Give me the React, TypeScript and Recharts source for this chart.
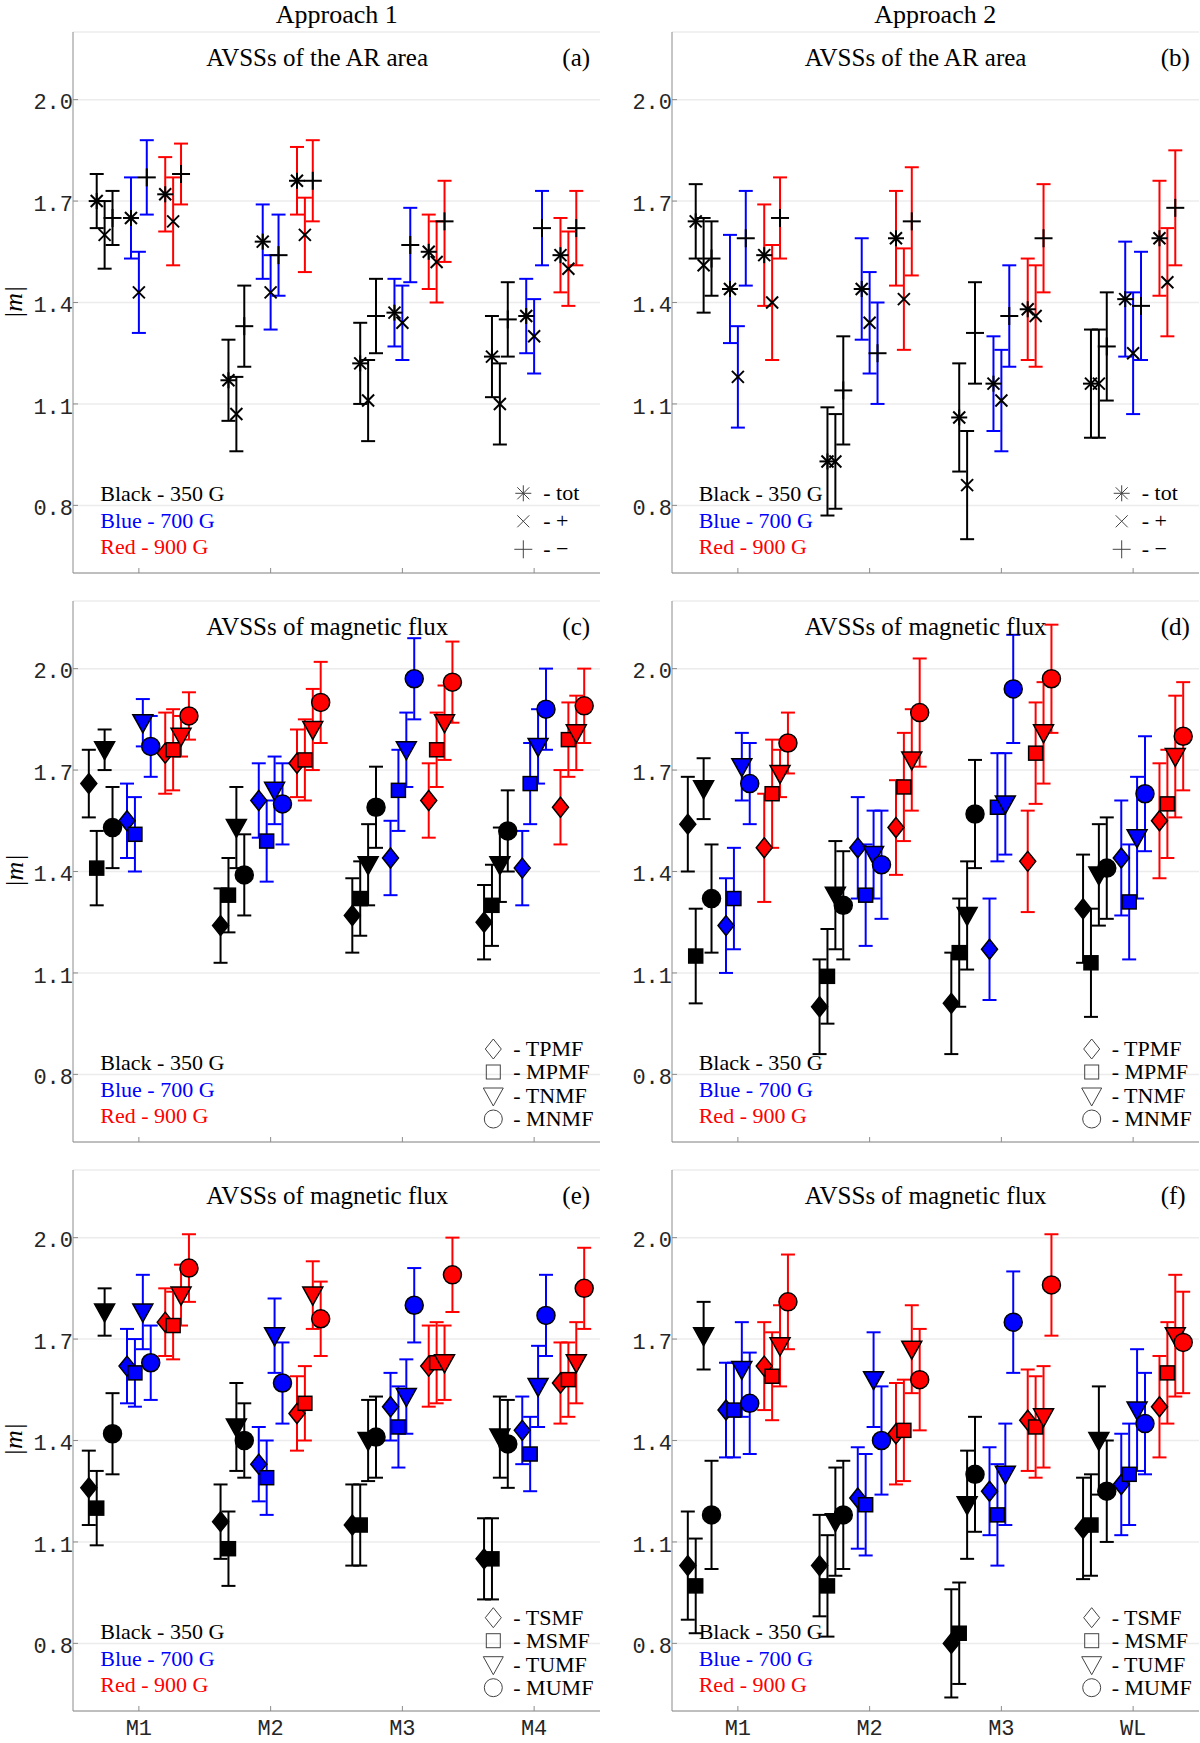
import React from "react";
import { ScatterChart, Scatter, XAxis, YAxis, CartesianGrid, ErrorBar } from "recharts";

// categories / ticks
const groups1 = ["M1", "M2", "M3", "M4"];
const groups2 = ["M1", "M2", "M3", "WL"];
const yTicks = [0.8, 1.1, 1.4, 1.7, 2.0];
const xTicks = [1, 2, 3, 4];

// (a) AR area, approach 1 — rows: tot, +, - ; cols: groups1
const aBlack = [[1.70, 1.17, 1.22, 1.24], [1.60, 1.07, 1.11, 1.10], [1.65, 1.33, 1.36, 1.35]];
const aBlackErr = [[0.08, 0.12, 0.12, 0.12], [0.10, 0.11, 0.12, 0.12], [0.08, 0.12, 0.11, 0.11]];
const aBlue = [[1.65, 1.58, 1.37, 1.36], [1.43, 1.43, 1.34, 1.30], [1.77, 1.54, 1.57, 1.62]];
const aBlueErr = [[0.12, 0.11, 0.10, 0.11], [0.12, 0.11, 0.11, 0.11], [0.11, 0.12, 0.11, 0.11]];
const aRed = [[1.72, 1.76, 1.55, 1.54], [1.64, 1.60, 1.52, 1.50], [1.78, 1.76, 1.64, 1.62]];
const aRedErr = [[0.11, 0.10, 0.11, 0.11], [0.13, 0.11, 0.12, 0.11], [0.09, 0.12, 0.12, 0.11]];

// (b) AR area, approach 2 — cols: groups2
const bBlack = [[1.64, 0.93, 1.06, 1.16], [1.51, 0.93, 0.86, 1.16], [1.53, 1.14, 1.31, 1.27]];
const bBlackErr = [[0.11, 0.16, 0.16, 0.16], [0.14, 0.14, 0.16, 0.16], [0.11, 0.16, 0.15, 0.16]];
const bBlue = [[1.44, 1.44, 1.16, 1.41], [1.18, 1.34, 1.11, 1.25], [1.59, 1.25, 1.36, 1.39]];
const bBlueErr = [[0.16, 0.15, 0.14, 0.17], [0.15, 0.15, 0.15, 0.18], [0.14, 0.15, 0.15, 0.16]];
const bRed = [[1.54, 1.59, 1.38, 1.59], [1.40, 1.41, 1.36, 1.46], [1.65, 1.64, 1.59, 1.68]];
const bRedErr = [[0.15, 0.14, 0.15, 0.17], [0.17, 0.15, 0.15, 0.16], [0.12, 0.16, 0.16, 0.17]];

// (c) flux, approach 1 — rows: TPMF, MPMF, TNMF, MNMF
const cBlack = [[1.66, 1.24, 1.27, 1.25], [1.41, 1.33, 1.32, 1.30], [1.76, 1.53, 1.42, 1.42], [1.53, 1.39, 1.59, 1.52]];
const cBlackErr = [[0.10, 0.11, 0.11, 0.11], [0.11, 0.11, 0.11, 0.12], [0.06, 0.12, 0.12, 0.11], [0.12, 0.12, 0.12, 0.12]];
const cBlue = [[1.55, 1.61, 1.44, 1.41], [1.51, 1.49, 1.64, 1.66], [1.84, 1.64, 1.76, 1.77], [1.77, 1.60, 1.97, 1.88]];
const cBlueErr = [[0.11, 0.11, 0.11, 0.11], [0.11, 0.12, 0.12, 0.12], [0.07, 0.10, 0.11, 0.11], [0.09, 0.12, 0.12, 0.12]];
const cRed = [[1.75, 1.72, 1.61, 1.59], [1.76, 1.73, 1.76, 1.79], [1.80, 1.82, 1.84, 1.81], [1.86, 1.90, 1.96, 1.89]];
const cRedErr = [[0.12, 0.10, 0.11, 0.11], [0.12, 0.12, 0.11, 0.11], [0.06, 0.12, 0.11, 0.11], [0.07, 0.12, 0.12, 0.11]];

// (d) flux, approach 2
const dBlack = [[1.54, 1.00, 1.01, 1.29], [1.15, 1.09, 1.16, 1.13], [1.645, 1.33, 1.27, 1.39], [1.32, 1.30, 1.57, 1.41]];
const dBlackErr = [[0.14, 0.14, 0.15, 0.16], [0.14, 0.14, 0.16, 0.16], [0.09, 0.16, 0.16, 0.15], [0.16, 0.16, 0.16, 0.15]];
const dBlue = [[1.24, 1.47, 1.17, 1.44], [1.32, 1.33, 1.59, 1.31], [1.71, 1.45, 1.60, 1.50], [1.66, 1.42, 1.94, 1.63]];
const dBlueErr = [[0.14, 0.15, 0.15, 0.17], [0.15, 0.15, 0.16, 0.17], [0.10, 0.13, 0.15, 0.18], [0.12, 0.16, 0.16, 0.17]];
const dRed = [[1.47, 1.53, 1.43, 1.55], [1.63, 1.65, 1.75, 1.60], [1.69, 1.73, 1.81, 1.74], [1.78, 1.87, 1.97, 1.80]];
const dRedErr = [[0.16, 0.14, 0.15, 0.17], [0.16, 0.16, 0.15, 0.16], [0.07, 0.15, 0.15, 0.18], [0.09, 0.16, 0.16, 0.16]];

// (e) flux, approach 1 — rows: TSMF, MSMF, TUMF, MUMF
const eBlack = [[1.26, 1.16, 1.15, 1.05], [1.20, 1.08, 1.15, 1.05], [1.78, 1.44, 1.40, 1.41], [1.42, 1.40, 1.41, 1.39]];
const eBlackErr = [[0.11, 0.11, 0.12, 0.12], [0.11, 0.11, 0.12, 0.12], [0.07, 0.13, 0.12, 0.12], [0.12, 0.11, 0.12, 0.13]];
const eBlue = [[1.62, 1.33, 1.50, 1.43], [1.60, 1.29, 1.44, 1.36], [1.78, 1.71, 1.53, 1.56], [1.63, 1.57, 1.80, 1.77]];
const eBlueErr = [[0.11, 0.11, 0.10, 0.10], [0.10, 0.11, 0.12, 0.11], [0.11, 0.11, 0.11, 0.12], [0.11, 0.12, 0.11, 0.12]];
const eRed = [[1.75, 1.48, 1.62, 1.57], [1.74, 1.51, 1.63, 1.58], [1.83, 1.83, 1.63, 1.63], [1.91, 1.76, 1.89, 1.85]];
const eRedErr = [[0.10, 0.11, 0.12, 0.12], [0.10, 0.11, 0.12, 0.11], [0.09, 0.10, 0.11, 0.12], [0.10, 0.11, 0.11, 0.12]];

// (f) flux, approach 2
const fBlack = [[1.03, 1.03, 0.80, 1.14], [0.97, 0.97, 0.83, 1.15], [1.71, 1.16, 1.21, 1.40], [1.18, 1.18, 1.30, 1.25]];
const fBlackErr = [[0.16, 0.15, 0.16, 0.15], [0.14, 0.15, 0.15, 0.15], [0.10, 0.16, 0.16, 0.16], [0.16, 0.16, 0.17, 0.15]];
const fBlue = [[1.49, 1.23, 1.25, 1.27], [1.49, 1.21, 1.18, 1.30], [1.61, 1.58, 1.30, 1.49], [1.51, 1.40, 1.75, 1.45]];
const fBlueErr = [[0.14, 0.15, 0.13, 0.15], [0.14, 0.15, 0.15, 0.15], [0.14, 0.14, 0.15, 0.18], [0.15, 0.16, 0.15, 0.15]];
const fRed = [[1.62, 1.42, 1.46, 1.50], [1.59, 1.43, 1.44, 1.60], [1.68, 1.67, 1.47, 1.71], [1.81, 1.58, 1.86, 1.69]];
const fRedErr = [[0.13, 0.15, 0.15, 0.15], [0.13, 0.15, 0.15, 0.15], [0.12, 0.13, 0.15, 0.18], [0.14, 0.15, 0.15, 0.15]];

const arMarkers = ["star", "x", "plus"];
const arLabels = ["- tot", "- +", "- \u2212"];
const fluxMarkers = ["diamond", "square", "tri", "circle"];
const pLabels = ["- TPMF", "- MPMF", "- TNMF", "- MNMF"];
const sLabels = ["- TSMF", "- MSMF", "- TUMF", "- MUMF"];
const fieldLabels = ["Black - 350 G", "Blue - 700 G", "Red - 900 G"];
const COLORS = ["#000000", "#0000ff", "#ff0000"];

// layout
const PW = 527;
const PH = 541;
const COL_X = [73.3, 671.7];
const ROW_Y = [32.3, 601, 1169.7];
const ML = 70;
const MT = 6;
const MR = 4;
const MB = 31;
const FRAME = "#8c8c8c";
const TXT = "#262626";
const SERIF = "'Liberation Serif', 'DejaVu Serif', serif";
const MONO = "'Liberation Mono', 'DejaVu Sans Mono', monospace";
const TICK_FS = 22;

const panels = [
  { id: "a", col: 0, row: 0, title: "AVSSs of the AR area", markers: arMarkers, labels: arLabels, groups: groups1, vals: [aBlack, aBlue, aRed], errs: [aBlackErr, aBlueErr, aRedErr] },
  { id: "b", col: 1, row: 0, title: "AVSSs of the AR area", markers: arMarkers, labels: arLabels, groups: groups2, vals: [bBlack, bBlue, bRed], errs: [bBlackErr, bBlueErr, bRedErr] },
  { id: "c", col: 0, row: 1, title: "AVSSs of magnetic flux", markers: fluxMarkers, labels: pLabels, groups: groups1, vals: [cBlack, cBlue, cRed], errs: [cBlackErr, cBlueErr, cRedErr] },
  { id: "d", col: 1, row: 1, title: "AVSSs of magnetic flux", markers: fluxMarkers, labels: pLabels, groups: groups2, vals: [dBlack, dBlue, dRed], errs: [dBlackErr, dBlueErr, dRedErr] },
  { id: "e", col: 0, row: 2, title: "AVSSs of magnetic flux", markers: fluxMarkers, labels: sLabels, groups: groups1, vals: [eBlack, eBlue, eRed], errs: [eBlackErr, eBlueErr, eRedErr] },
  { id: "f", col: 1, row: 2, title: "AVSSs of magnetic flux", markers: fluxMarkers, labels: sLabels, groups: groups2, vals: [fBlack, fBlue, fRed], errs: [fBlackErr, fBlueErr, fRedErr] },
];

// horizontal offsets of the series inside a group
const offsets = (n: number, c: number, m: number) =>
  n === 3 ? [-0.26, 0, 0.26][c] + [-0.06, 0, 0.06][m] : [-0.29, 0, 0.29][c] + [-0.09, -0.03, 0.03, 0.09][m];

const Glyph = ({ kind, cx, cy, fill, stroke, sw }: any) => {
  if (cx == null || cy == null) return null;
  switch (kind) {
    case "star":
      return (
        <g stroke={stroke} strokeWidth={sw}>
          <line x1={cx - 8} y1={cy} x2={cx + 8} y2={cy} />
          <line x1={cx} y1={cy - 8} x2={cx} y2={cy + 8} />
          <line x1={cx - 6} y1={cy - 6} x2={cx + 6} y2={cy + 6} />
          <line x1={cx - 6} y1={cy + 6} x2={cx + 6} y2={cy - 6} />
        </g>
      );
    case "x":
      return (
        <g stroke={stroke} strokeWidth={sw}>
          <line x1={cx - 6} y1={cy - 6} x2={cx + 6} y2={cy + 6} />
          <line x1={cx - 6} y1={cy + 6} x2={cx + 6} y2={cy - 6} />
        </g>
      );
    case "plus":
      return (
        <g stroke={stroke} strokeWidth={sw}>
          <line x1={cx - 9} y1={cy} x2={cx + 9} y2={cy} />
          <line x1={cx} y1={cy - 9} x2={cx} y2={cy + 9} />
        </g>
      );
    case "diamond":
      return <polygon points={`${cx},${cy - 10} ${cx + 8},${cy} ${cx},${cy + 10} ${cx - 8},${cy}`} fill={fill} stroke={stroke} strokeWidth={sw} />;
    case "square":
      return <rect x={cx - 7} y={cy - 7} width={14} height={14} fill={fill} stroke={stroke} strokeWidth={sw} />;
    case "tri":
      return <polygon points={`${cx - 10},${cy - 8} ${cx + 10},${cy - 8} ${cx},${cy + 10}`} fill={fill} stroke={stroke} strokeWidth={sw} />;
    default:
      return <circle cx={cx} cy={cy} r={9} fill={fill} stroke={stroke} strokeWidth={sw} />;
  }
};

const Panel = ({ p }: any) => {
  const bottomRow = p.row === 2;
  const filled = p.markers.length === 4;
  const series: any[] = [];
  p.vals.forEach((colorVals: number[][], c: number) => {
    colorVals.forEach((vals: number[], m: number) => {
      const data = vals.map((v, i) => ({
        x: xTicks[i] + offsets(p.markers.length, c, m),
        y: v,
        err: p.errs[c][m][i],
      }));
      const kind = p.markers[m];
      series.push(
        <Scatter
          key={`${p.id}-${c}-${m}`}
          data={data}
          isAnimationActive={false}
          shape={(s: any) => (
            <Glyph kind={kind} cx={s.cx} cy={s.cy} fill={filled ? COLORS[c] : "none"} stroke="#000" sw={filled ? 1.5 : 2} />
          )}
        >
          <ErrorBar dataKey="err" direction="y" width={7} stroke={COLORS[c]} strokeWidth={2} isAnimationActive={false} />
        </Scatter>
      );
    });
  });

  return (
    <div style={{ position: "absolute", left: COL_X[p.col] - ML, top: ROW_Y[p.row] - MT }}>
      <ScatterChart width={ML + PW + MR} height={MT + PH + MB} margin={{ top: MT, right: MR, bottom: 0, left: 0 }}>
        <CartesianGrid vertical={false} stroke="#ececec" strokeWidth={1.5} />
        <XAxis
          dataKey="x"
          type="number"
          domain={[0.5, 4.5]}
          ticks={xTicks}
          height={MB}
          tickSize={-5}
          tickMargin={13}
          fontSize={TICK_FS}
          axisLine={{ stroke: FRAME }}
          tickLine={{ stroke: FRAME }}
          tick={{ fill: TXT, fontSize: TICK_FS, fontFamily: MONO }}
          tickFormatter={(v: number) => (bottomRow ? p.groups[v - 1] : "")}
        />
        <XAxis xAxisId="top" orientation="top" type="number" domain={[0.5, 4.5]} ticks={xTicks} height={0} tickSize={-5} tick={false} axisLine={{ stroke: FRAME }} tickLine={{ stroke: FRAME }} />
        <YAxis
          dataKey="y"
          type="number"
          domain={[0.6, 2.2]}
          ticks={yTicks}
          width={ML}
          tickSize={-5}
          tickMargin={5}
          fontSize={TICK_FS}
          axisLine={{ stroke: FRAME }}
          tickLine={{ stroke: FRAME }}
          tick={{ fill: TXT, fontSize: TICK_FS, fontFamily: MONO, dy: 2 }}
          tickFormatter={(v: number) => v.toFixed(1)}
        />
        <YAxis yAxisId="right" orientation="right" type="number" domain={[0.6, 2.2]} ticks={yTicks} width={0} tickSize={-5} tick={false} axisLine={{ stroke: FRAME }} tickLine={{ stroke: FRAME }} />
        {series}
      </ScatterChart>
    </div>
  );
};

const Texts = () => (
  <svg width={1200} height={1743} style={{ position: "absolute", left: 0, top: 0, pointerEvents: "none" }}>
    <text x={COL_X[0] + PW / 2} y={23} textAnchor="middle" fontFamily={SERIF} fontSize={26} fill="#000">Approach 1</text>
    <text x={COL_X[1] + PW / 2} y={23} textAnchor="middle" fontFamily={SERIF} fontSize={26} fill="#000">Approach 2</text>
    {panels.map((p) => {
      const px = COL_X[p.col];
      const py = ROW_Y[p.row];
      const isAr = p.markers.length === 3;
      const rowsY = isAr ? [461, 489, 517] : [448, 471, 495, 518];
      const gx = isAr ? 450 : 420;
      return (
        <g key={p.id} fontFamily={SERIF}>
          <text x={px + 133} y={py + 34} fontSize={25} fill="#000">{p.title}</text>
          <text x={px + 489} y={py + 34} fontSize={25} fill="#000">({p.id})</text>
          {p.col === 0 && (
            <text x={14} y={py + 270} transform={`rotate(-90 14 ${py + 270})`} textAnchor="middle" dominantBaseline="central" fontSize={26} fontStyle="italic" fill="#000">|m|</text>
          )}
          {fieldLabels.map((t, i) => (
            <text key={t} x={px + 27} y={py + [469, 496, 522][i]} fontSize={22} fill={COLORS[i]}>{t}</text>
          ))}
          {p.labels.map((t, i) => (
            <g key={t}>
              <Glyph kind={p.markers[i]} cx={px + gx} cy={py + rowsY[i]} fill="none" stroke="#444" sw={1} />
              <text x={px + gx + 20} y={py + rowsY[i] + 7} fontSize={22} fill="#000">{t}</text>
            </g>
          ))}
        </g>
      );
    })}
  </svg>
);

export default function App() {
  return (
    <div style={{ position: "absolute", left: 0, top: 0, width: 1200, height: 1743, background: "#fff" }}>
      {panels.map((p) => (
        <Panel key={p.id} p={p} />
      ))}
      <Texts />
    </div>
  );
}
